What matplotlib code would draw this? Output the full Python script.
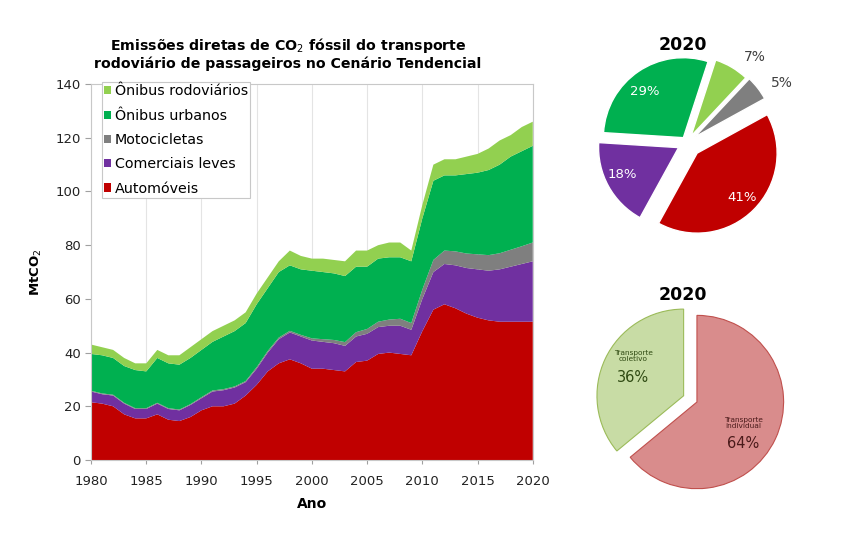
import numpy as np
import matplotlib
matplotlib.use("Agg")
import matplotlib.pyplot as plt
from matplotlib.patches import Patch

# ---- data (MtCO2) ----
anos = list(range(1980, 2021))

automoveis = [21.5, 21, 20, 17, 15.5, 15.5, 17, 15, 14.5, 16, 18.5, 20, 20, 21, 24, 28, 33, 36, 37.5, 36,
              34, 34, 33.5, 33, 36.5, 37, 39.5, 40, 39.5, 39, 48, 56, 58, 56.5, 54.5, 53, 52, 51.5, 51.5, 51.5, 51.5]
comerciais = [4, 3.5, 4, 4, 3.5, 3.5, 4, 4, 4, 4.5, 4.5, 5.5, 6, 6, 5, 6, 7, 9, 10, 10,
              10.5, 10, 10, 9.5, 9.5, 10, 10, 10, 10.5, 9.5, 12, 14, 15, 16, 17, 18, 18.5, 19.5, 20.5, 21.5, 22.5]
motos = [0.3, 0.3, 0.3, 0.3, 0.3, 0.3, 0.3, 0.3, 0.3, 0.3, 0.4, 0.4, 0.4, 0.4, 0.4, 0.6, 0.6, 0.6, 0.6, 0.6,
         0.8, 1.0, 1.2, 1.4, 1.6, 1.8, 2.0, 2.3, 2.6, 2.5, 3.5, 4.5, 5, 5.2, 5.4, 5.6, 5.8, 6.0, 6.3, 6.6, 7]
urbanos = [13.7, 14.2, 13.7, 13.7, 14.2, 13.7, 16.7, 16.7, 16.7, 17.2, 17.6, 18.1, 19.6, 20.6, 21.6, 23.4, 23.4, 24.4, 24.4, 24.4,
           25.2, 25, 24.8, 24.6, 24.4, 23.2, 23.5, 23.2, 22.9, 23, 26.5, 29.5, 28, 28.3, 29.6, 30.4, 31.7, 33, 34.7, 35.4, 36]
rodoviarios = [3.5, 3, 3, 3, 2.5, 3, 3, 3, 3.5, 4, 4, 4, 4, 4, 4, 4, 4, 4, 5.5, 5,
               4.5, 5, 5, 5.5, 6, 6, 5, 5.5, 5.5, 4, 5, 6, 6, 6, 6.5, 7, 8, 9, 8, 9, 9]

series_nomes = ["Automóveis", "Comerciais leves", "Motocicletas", "Ônibus urbanos", "Ônibus rodoviários"]
cores = ["#c00000", "#7030a0", "#7f7f7f", "#00b050", "#92d050"]

# pie 1 (2020 shares, clockwise from top)
pie1_nomes = ["Ônibus rodoviários", "Motocicletas", "Automóveis", "Comerciais leves", "Ônibus urbanos"]
pie1_vals = [7, 5, 41, 18, 29]
pie1_cores = ["#92d050", "#7f7f7f", "#c00000", "#7030a0", "#00b050"]

# pie 2
pie2_nomes = ["Transporte\nindividual", "Transporte\ncoletivo"]
pie2_vals = [64, 36]
pie2_cores = ["#d98c8c", "#c8dca5"]
pie2_bordas = ["#c0504d", "#9bbb59"]

plt.rcParams['font.family'] = ['DejaVu Sans']

fig = plt.figure(figsize=(8.43, 5.37), dpi=100)

# ---- stacked area ----
ax = fig.add_axes([0.108, 0.1434, 0.524, 0.700])
ax.stackplot(anos, automoveis, comerciais, motos, urbanos, rodoviarios,
             colors=cores, linewidth=0)
ax.set_xlim(1980, 2020)
ax.set_ylim(0, 140)
ax.set_xticks(range(1980, 2021, 5))
ax.set_yticks(range(0, 141, 20))
ax.tick_params(labelsize=9.5, length=4, color="#a0a0a0", colors="#222222")
ax.tick_params(axis="x", length=3, pad=8)
ax.xaxis.grid(True, color="#e4e4e4", linewidth=0.8)
ax.set_axisbelow(True)
for s in ax.spines.values():
    s.set_color("#c8c8c8")
    s.set_linewidth(0.8)
ax.set_ylabel("MtCO$_2$", fontsize=9.5, fontweight="bold", labelpad=8)
ax.set_xlabel("Ano", fontsize=10, fontweight="bold", labelpad=6)
fig.text(0.3416, 0.900,
         "Emissões diretas de CO$_2$ fóssil do transporte\nrodoviário de passageiros no Cenário Tendencial",
         ha="center", va="center", fontsize=10.2, fontweight="bold", linespacing=1.15)

handles = [Patch(facecolor=c, edgecolor="none") for c in cores][::-1]
leg = ax.legend(handles, series_nomes[::-1], loc="upper left", bbox_to_anchor=(0.025, 1.005),
                borderaxespad=0, fontsize=10.3, handlelength=0.5, handleheight=0.5, handletextpad=0.25,
                labelspacing=0.72, borderpad=0.15, fancybox=False, framealpha=1)
leg.get_frame().set_edgecolor("#c8c8c8")
leg.get_frame().set_linewidth(0.8)

# ---- pie 1 ----
ax1 = fig.add_axes([0.701, 0.555, 0.2278, 0.3575])
w1, _ = ax1.pie(pie1_vals, colors=pie1_cores, startangle=72, counterclock=False,
                explode=[0.1, 0.12, 0.18, 0.12, 0.08],
                wedgeprops=dict(edgecolor="white", linewidth=1))
# label anchor: distance from wedge apex and angle shift from the wedge middle
pie1_lbl = [(1.27, -8), (1.28, -6), (0.79, 0), (0.78, -3), (0.75, 6)]
for w, v, (d, da) in zip(w1, pie1_vals, pie1_lbl):
    ang = np.deg2rad((w.theta1 + w.theta2) / 2 + da)
    cx, cy = w.center
    fora = d > 1
    ax1.text(cx + d * np.cos(ang), cy + d * np.sin(ang), f"{v}%", ha="center", va="center",
             fontsize=10 if fora else 9.5, color="#404040" if fora else "white")
ax1.set_xlim(-1.2, 1.2)
ax1.set_ylim(-1.2, 1.2)
fig.text(0.81, 0.916, "2020", ha="center", va="center", fontsize=12.5, fontweight="bold")

# ---- pie 2 ----
ax2 = fig.add_axes([0.7034, 0.0577, 0.2467, 0.3873])
w2, _ = ax2.pie(pie2_vals, colors=pie2_cores, startangle=90, counterclock=False,
                explode=[0.0, 0.17])
for w, borda in zip(w2, pie2_bordas):
    w.set_edgecolor(borda)
    w.set_linewidth(0.8)
pie2_lbl = [(0.72, -17), (0.62, 5)]
for w, nome, v, (d, da) in zip(w2, pie2_nomes, pie2_vals, pie2_lbl):
    ang = np.deg2rad((w.theta1 + w.theta2) / 2 + da)
    cx, cy = w.center
    px, py = cx + d * np.cos(ang), cy + d * np.sin(ang)
    cor = "#4a1a1a" if v > 50 else "#2f4a12"
    ax2.annotate(nome, (px, py), xytext=(0, 15), textcoords="offset points",
                 ha="center", va="center", fontsize=5.3, color=cor, linespacing=1.0)
    ax2.annotate(f"{v}%", (px, py), ha="center", va="center", fontsize=10.5, color=cor)
ax2.set_xlim(-1.2, 1.2)
ax2.set_ylim(-1.2, 1.2)
fig.text(0.81, 0.451, "2020", ha="center", va="center", fontsize=12.5, fontweight="bold")

fig.savefig("out.png", dpi=100)
